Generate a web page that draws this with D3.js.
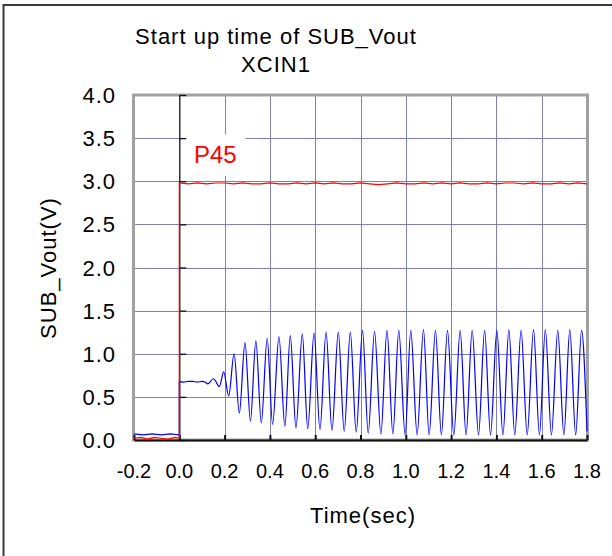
<!DOCTYPE html>
<html>
<head>
<meta charset="utf-8">
<script src="https://cdn.jsdelivr.net/npm/d3@7"></script>
<style>
body { margin: 0; background: #fff; }
text { font-family: "Liberation Sans", Arial, sans-serif; fill: #000; }
</style>
</head>
<body>
<svg id="chart" width="612" height="556"></svg>
<script>
// tick values
let xTicks = [-0.2, 0.0, 0.2, 0.4, 0.6, 0.8, 1.0, 1.2, 1.4, 1.6, 1.8];
let yTicks = [0.0, 0.5, 1.0, 1.5, 2.0, 2.5, 3.0, 3.5, 4.0];

// P45 trace (red), [time, volt]
let redPre = [[-0.2, 0.02], [-0.17, 0.03], [-0.14, 0.01], [-0.11, 0.03], [-0.08, 0.02],
    [-0.05, 0.01], [-0.02, 0.03], [0.0, 0.02]];
let redPost = [[0.0, 2.98], [0.04, 2.97], [0.08, 2.98], [0.12, 2.97], [0.16, 2.98], [0.2, 2.98],
    [0.24, 2.97], [0.28, 2.98], [0.32, 2.97], [0.36, 2.97], [0.4, 2.98], [0.44, 2.97], [0.48, 2.97],
    [0.52, 2.98], [0.56, 2.97], [0.6, 2.98], [0.64, 2.97], [0.68, 2.98], [0.72, 2.97], [0.76, 2.97],
    [0.8, 2.98], [0.84, 2.97], [0.88, 2.96], [0.92, 2.97], [0.96, 2.98], [1.0, 2.97], [1.04, 2.97],
    [1.08, 2.98], [1.12, 2.97], [1.16, 2.98], [1.2, 2.97], [1.24, 2.98], [1.28, 2.97], [1.32, 2.97],
    [1.36, 2.98], [1.4, 2.97], [1.44, 2.98], [1.48, 2.98], [1.52, 2.97], [1.56, 2.98], [1.6, 2.97],
    [1.64, 2.97], [1.68, 2.98], [1.72, 2.97], [1.76, 2.98], [1.8, 2.97]];

// XCIN1 trace (blue)
let bluePre = [[-0.2, 0.07], [-0.16, 0.06], [-0.12, 0.07], [-0.08, 0.06], [-0.04, 0.07], [0.0, 0.06], [0.0, 0.68]];
let bluePost = [[0.0, 0.68], [0.02, 0.67], [0.04, 0.68], [0.06, 0.68], [0.08, 0.67], [0.1, 0.68], [0.115, 0.67],
    [0.125, 0.65], [0.151, 0.71], [0.177, 0.62], [0.196, 0.79], [0.218, 0.51], [0.242, 1.00], [0.265, 0.31],
    [0.290, 1.13], [0.314, 0.22], [0.338, 1.15], [0.362, 0.20], [0.388, 1.18], [0.412, 0.18], [0.440, 1.20],
    [0.466, 0.16], [0.490, 1.21], [0.515, 0.14], [0.543, 1.23], [0.567, 0.13], [0.595, 1.24], [0.621, 0.12],
    [0.648, 1.25], [0.674, 0.11], [0.702, 1.25], [0.728, 0.10], [0.755, 1.25], [0.781, 0.09], [0.809, 1.27],
    [0.834, 0.08], [0.862, 1.26], [0.890, 0.07], [0.917, 1.27], [0.943, 0.07], [0.969, 1.27], [0.997, 0.06],
    [1.022, 1.27], [1.050, 0.06], [1.078, 1.28], [1.103, 0.06], [1.131, 1.27], [1.157, 0.06], [1.184, 1.27],
    [1.212, 0.06], [1.240, 1.27], [1.266, 0.06], [1.293, 1.27], [1.321, 0.06], [1.348, 1.27], [1.374, 0.06],
    [1.402, 1.27], [1.429, 0.06], [1.455, 1.28], [1.481, 0.06], [1.509, 1.27], [1.536, 0.06], [1.564, 1.28],
    [1.590, 0.06], [1.616, 1.28], [1.643, 0.06], [1.671, 1.27], [1.698, 0.06], [1.724, 1.28], [1.750, 0.06],
    [1.776, 1.27], [1.800, 0.10]];

let plot = {left: 134, right: 587, top: 95, bottom: 440};
let svg = d3.select('#chart');

let x = d3.scaleLinear().domain([-0.2, 1.8]).range([plot.left, plot.right]);
let y = d3.scaleLinear().domain([0, 4]).range([plot.bottom, plot.top]);

// outer frame
svg.append('rect')
    .attr('x', 3.5).attr('y', 5)
    .attr('width', 700).attr('height', 700)
    .attr('fill', 'none')
    .attr('stroke', '#3a3a3a')
    .attr('stroke-width', 2);

// title
svg.append('text')
    .attr('x', 276).attr('y', 44)
    .attr('text-anchor', 'middle')
    .attr('font-size', 22).attr('letter-spacing', 1)
    .text('Start up time of SUB_Vout');
svg.append('text')
    .attr('x', 276).attr('y', 72)
    .attr('text-anchor', 'middle')
    .attr('font-size', 22).attr('letter-spacing', 1)
    .text('XCIN1');

// grid
let grid = svg.append('g').attr('stroke', '#8080b0').attr('stroke-width', 1);
grid.selectAll('.hg')
    .data(yTicks.filter(d => d > 0 && d < 4))
    .enter().append('line')
    .attr('x1', plot.left).attr('x2', plot.right)
    .attr('y1', d => Math.round(y(d)) + 0.5).attr('y2', d => Math.round(y(d)) + 0.5);
grid.selectAll('.vg')
    .data(xTicks.filter(d => d > 0.05 && d < 1.7))
    .enter().append('line')
    .attr('y1', plot.top).attr('y2', plot.bottom)
    .attr('x1', d => Math.round(x(d)) + 0.5).attr('x2', d => Math.round(x(d)) + 0.5);

// white box behind the P45 label
svg.append('rect')
    .attr('x', x(0) + 1).attr('y', 134)
    .attr('width', 65).attr('height', 42)
    .attr('fill', '#fff');

// plot border
svg.append('rect')
    .attr('x', plot.left - 0.5).attr('y', plot.top)
    .attr('width', plot.right - plot.left + 1).attr('height', plot.bottom - plot.top)
    .attr('fill', 'none')
    .attr('stroke', '#a0a0a0')
    .attr('stroke-width', 3);

// black axes at t=0 and v=0
svg.append('g')
    .attr('transform', `translate(${x(0)},0)`)
    .call(d3.axisRight(y).tickValues(yTicks).tickSize(7).tickSizeOuter(0).tickFormat(''))
    .call(g => g.selectAll('path, line').attr('stroke', '#111').attr('stroke-width', 1.3));
svg.append('g')
    .attr('transform', `translate(0,${plot.bottom})`)
    .call(d3.axisTop(x).tickValues(xTicks).tickSize(5).tickSizeOuter(0).tickFormat(''))
    .call(g => g.selectAll('path, line').attr('stroke', '#111').attr('stroke-width', 2));

// traces
let line = d3.line().x(d => x(d[0])).y(d => y(d[1]));
let smooth = d3.line().x(d => x(d[0])).y(d => y(d[1])).curve(d3.curveMonotoneX);

svg.append('path').datum(bluePre)
    .attr('d', line).attr('fill', 'none').attr('stroke', '#0000ff').attr('stroke-width', 1.2);
svg.append('path').datum(bluePost)
    .attr('d', smooth).attr('fill', 'none').attr('stroke', '#0000ff').attr('stroke-width', 1.2);
svg.append('path').datum(redPre.concat(redPost))
    .attr('d', line).attr('fill', 'none').attr('stroke', '#ff0000').attr('stroke-width', 1.2);

// tick labels
svg.append('g')
    .selectAll('text')
    .data(yTicks)
    .enter().append('text')
    .attr('x', 116)
    .attr('y', d => y(d) + 8)
    .attr('text-anchor', 'end')
    .attr('font-size', 22).attr('letter-spacing', 1)
    .text(d => d.toFixed(1));
svg.append('g')
    .selectAll('text')
    .data(xTicks)
    .enter().append('text')
    .attr('x', d => x(d))
    .attr('y', 478)
    .attr('text-anchor', 'middle')
    .attr('font-size', 20)
    .text(d => d.toFixed(1));

// axis titles
svg.append('text')
    .attr('x', 363).attr('y', 523)
    .attr('text-anchor', 'middle')
    .attr('font-size', 22).attr('letter-spacing', 1)
    .text('Time(sec)');
svg.append('text')
    .attr('transform', 'translate(56,268) rotate(-90)')
    .attr('text-anchor', 'middle')
    .attr('font-size', 22).attr('letter-spacing', 1)
    .text('SUB_Vout(V)');

// series label
svg.append('text')
    .attr('x', 194).attr('y', 163)
    .attr('font-size', 24)
    .attr('fill', '#ff0000')
    .style('fill', '#ff0000')
    .text('P45');
</script>
</body>
</html>
